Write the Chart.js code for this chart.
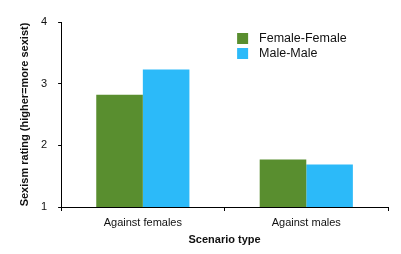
<!DOCTYPE html>
<html>
<head>
<meta charset="utf-8">
<script src="https://cdn.jsdelivr.net/npm/chart.js@4"></script>
<style>
  html, body { margin: 0; padding: 0; background: #fff; }
  #wrap { width: 401px; height: 254px; }
</style>
</head>
<body>
<div id="wrap"><canvas id="chart"></canvas></div>
<script>
// data
const categories = ['Against females', 'Against males'];
const femaleFemale = [2.82, 1.77];
const maleMale = [3.23, 1.69];
const yTicks = [1, 2, 3, 4];

const FONT = "'Liberation Sans', Arial, Helvetica, sans-serif";

// legend sits inside the plot, top right
const insideLegend = {
    id: 'insideLegend',
    afterDraw(chart) {
        const ctx = chart.ctx;
        const area = chart.chartArea;
        const x = area.left + 176;
        let y = area.top + 11;
        ctx.save();
        ctx.font = '12.5px ' + FONT;
        ctx.textBaseline = 'middle';
        chart.data.datasets.forEach(ds => {
            ctx.fillStyle = ds.backgroundColor;
            ctx.fillRect(x, y, 11, 11);
            ctx.fillStyle = '#111';
            ctx.fillText(ds.label, x + 22, y + 6);
            y += 15;
        });
        ctx.restore();
    }
};

new Chart(document.getElementById('chart'), {
    type: 'bar',
    data: {
        labels: categories,
        datasets: [
            { label: 'Female-Female', data: femaleFemale, backgroundColor: '#598e2f' },
            { label: 'Male-Male', data: maleMale, backgroundColor: '#2cbaf9' }
        ]
    },
    options: {
        responsive: true,
        maintainAspectRatio: false,
        animation: false,
        layout: { padding: { top: 22, right: 13, left: 19, bottom: 9 } },
        datasets: { bar: { categoryPercentage: 0.57, barPercentage: 1 } },
        plugins: {
            legend: { display: false },
            tooltip: { enabled: false }
        },
        scales: {
            x: {
                border: { color: '#000', width: 1 },
                grid: { drawOnChartArea: false, drawTicks: true, tickLength: 4, color: '#000' },
                ticks: { color: '#111', font: { family: FONT, size: 11, lineHeight: 1 }, padding: 6 },
                title: { display: true, text: 'Scenario type', color: '#111', font: { family: FONT, size: 11, weight: 'bold', lineHeight: 1 }, padding: { top: 0, bottom: 0 } }
            },
            y: {
                min: 1,
                max: 4,
                afterBuildTicks: axis => { axis.ticks = yTicks.map(v => ({ value: v })); },
                border: { color: '#000', width: 1 },
                grid: { drawOnChartArea: false, drawTicks: true, tickLength: 3, color: '#000' },
                ticks: { color: '#111', font: { family: FONT, size: 11 }, padding: 11 },
                title: { display: true, text: 'Sexism rating (higher=more sexist)', color: '#111', font: { family: FONT, size: 11, weight: 'bold', lineHeight: 1 }, padding: { top: 0, bottom: 0 } }
            }
        }
    },
    plugins: [insideLegend]
});
</script>
</body>
</html>
